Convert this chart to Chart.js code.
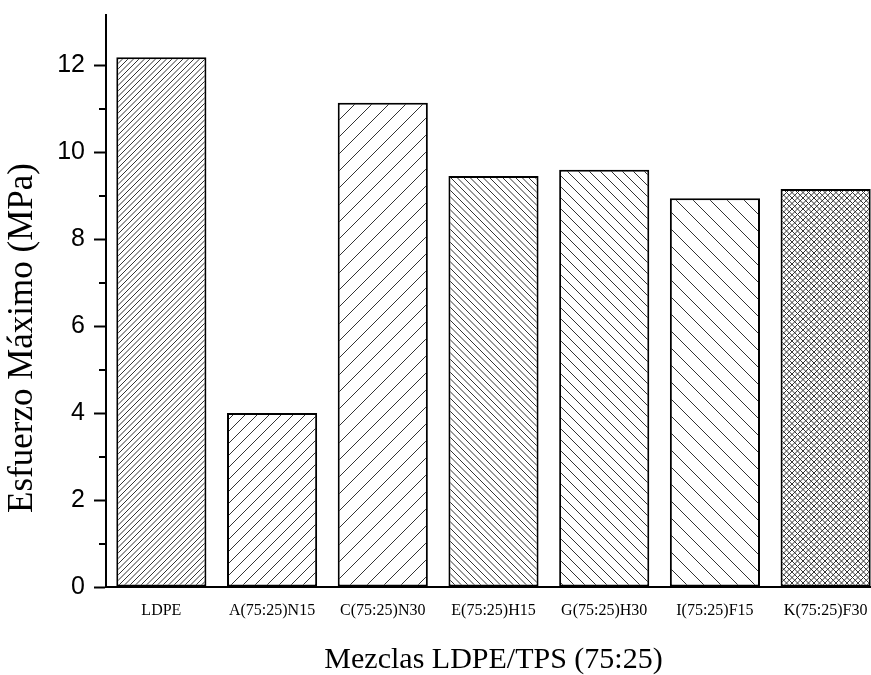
<!DOCTYPE html>
<html>
<head>
<meta charset="utf-8">
<script src="https://cdn.jsdelivr.net/npm/chart.js@4.4.1/dist/chart.umd.min.js"></script>
<style>
  html, body { margin: 0; padding: 0; background: #fff; overflow: hidden; width: 871px; height: 675px; }
  canvas { display: block; }
</style>
</head>
<body>
<canvas id="c" width="881" height="675"></canvas>
<script>
const categories = ["LDPE", "A(75:25)N15", "C(75:25)N30", "E(75:25)H15", "G(75:25)H30", "I(75:25)F15", "K(75:25)F30"];
const values = [12.18, 4.0, 11.13, 9.45, 9.59, 8.94, 9.15];
const yTicks = [0, 2, 4, 6, 8, 10, 12];
const yMinorTicks = [1, 3, 5, 7, 9, 11];
const xTitle = "Mezclas LDPE/TPS (75:25)";
const yTitle = "Esfuerzo Máximo (MPa)";

// hatch styles: dir '/', '\\', 'x'; tile size T with N lines
const hatchStyles = [
  { dir: '/', T: 11, N: 2 },
  { dir: '/', T: 12, N: 1 },
  { dir: '/', T: 17, N: 1 },
  { dir: '\\', T: 13, N: 2 },
  { dir: '\\', T: 11, N: 1 },
  { dir: '\\', T: 17, N: 1 },
  { dir: 'x', T: 11, N: 2 }
];

function makePattern(ctx, s) {
  const c = document.createElement('canvas');
  c.width = s.T; c.height = s.T;
  const g = c.getContext('2d');
  g.fillStyle = '#fff';
  g.fillRect(0, 0, s.T, s.T);
  g.strokeStyle = '#333';
  g.lineWidth = 1;
  const step = s.T / s.N;
  const drawDir = (d) => {
    g.beginPath();
    for (let k = -s.N; k <= 2 * s.N; k++) {
      const cx = k * step;
      if (d === '/') { g.moveTo(cx, 0); g.lineTo(cx - s.T, s.T); }
      else { g.moveTo(cx, 0); g.lineTo(cx + s.T, s.T); }
    }
    g.stroke();
  };
  if (s.dir === 'x') { drawDir('/'); drawDir('\\'); }
  else drawDir(s.dir);
  return ctx.createPattern(c, 'repeat');
}

const canvas = document.getElementById('c');
const ctx = canvas.getContext('2d');
const patterns = hatchStyles.map(s => makePattern(ctx, s));

const extraPlugin = {
  id: 'extra',
  afterDraw(chart) {
    const c = chart.ctx;
    const ys = chart.scales.y;
    c.save();
    c.strokeStyle = '#000';
    c.lineWidth = 2;
    yMinorTicks.forEach(v => {
      const py = Math.round(ys.getPixelForValue(v));
      c.beginPath();
      c.moveTo(ys.right - 7, py);
      c.lineTo(ys.right, py);
      c.stroke();
    });
    // y title
    c.fillStyle = '#000';
    c.font = '35px "Liberation Serif", "Times New Roman", serif';
    c.textAlign = 'center';
    c.textBaseline = 'middle';
    c.translate(23, 338);
    c.rotate(-Math.PI / 2);
    c.fillText(yTitle, 0, 0);
    c.restore();
  }
};

new Chart(canvas, {
  type: 'bar',
  data: {
    labels: categories,
    datasets: [{
      data: values,
      backgroundColor: patterns,
      borderColor: '#000',
      borderWidth: 2,
      borderSkipped: false,
      barPercentage: 0.814,
      categoryPercentage: 1.0
    }]
  },
  options: {
    responsive: false,
    animation: false,
    devicePixelRatio: 1,
    layout: { padding: { top: 15, right: 0, left: 0, bottom: 0 } },
    plugins: { legend: { display: false }, tooltip: { enabled: false } },
    scales: {
      x: {
        grid: { display: true, drawOnChartArea: false, drawTicks: false },
        border: { display: true, color: '#000', width: 2 },
        ticks: {
          color: '#000',
          padding: 14,
          maxRotation: 0,
          autoSkip: false,
          font: { family: '"Liberation Serif", "Times New Roman", serif', size: 16 }
        },
        title: {
          display: true,
          text: xTitle,
          color: '#000',
          font: { family: '"Liberation Serif", "Times New Roman", serif', size: 30 },
          padding: { top: 30, bottom: -3 }
        },
        afterFit(scale) { scale.height = 88; scale.paddingLeft = 0; scale.paddingRight = 0; }
      },
      y: {
        min: 0,
        max: 13.15,
        grid: { display: true, drawOnChartArea: false, drawTicks: true, tickLength: 12, tickWidth: 2, tickColor: '#000' },
        border: { display: true, color: '#000', width: 2 },
        afterBuildTicks(scale) { scale.ticks = yTicks.map(v => ({ value: v })); },
        ticks: {
          color: '#000',
          padding: 9,
          includeBounds: false,
          font: { family: '"Liberation Sans", Arial, sans-serif', size: 25 }
        },
        afterFit(scale) { scale.width = 106; scale.paddingTop = 0; scale.paddingBottom = 0; }
      }
    }
  },
  plugins: [extraPlugin]
});
</script>
</body>
</html>
